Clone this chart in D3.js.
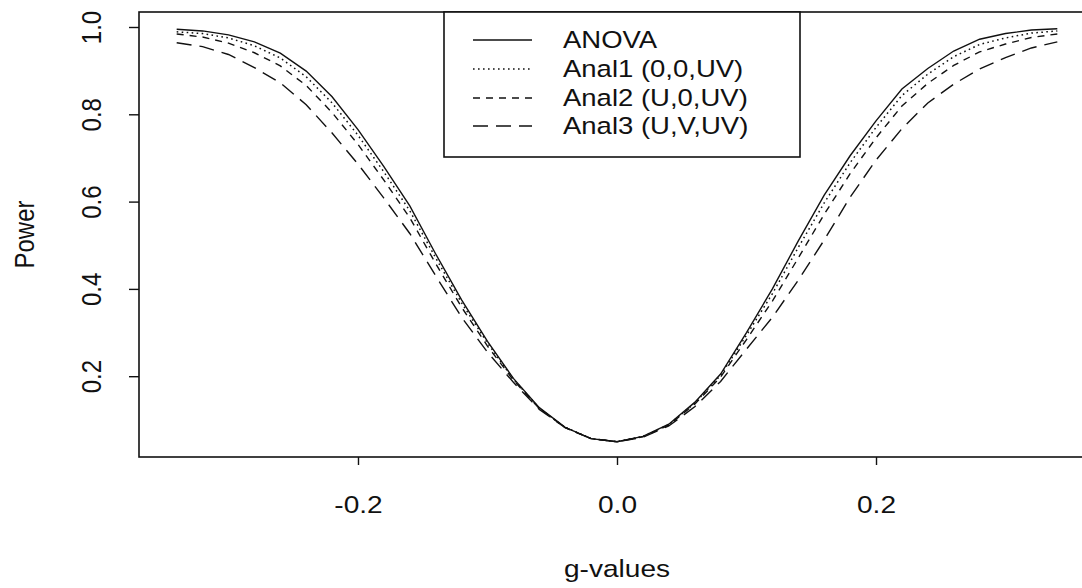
<!DOCTYPE html>
<html>
<head>
<meta charset="utf-8">
<script src="https://cdn.jsdelivr.net/npm/d3@7"></script>
<style>
  html, body { margin: 0; padding: 0; background: #fff; }
  svg { display: block; }
  text { font-family: "Liberation Sans", Arial, Helvetica, sans-serif; fill: #111; }
</style>
</head>
<body>
<svg id="chart" width="1082" height="588"></svg>
<script>
// ---- data ----
const gValues = [-0.34,-0.32,-0.30,-0.28,-0.26,-0.24,-0.22,-0.20,-0.18,-0.16,-0.14,-0.12,-0.10,-0.08,-0.06,-0.04,-0.02,0.00,
                  0.02,0.04,0.06,0.08,0.10,0.12,0.14,0.16,0.18,0.20,0.22,0.24,0.26,0.28,0.30,0.32,0.34];
const anova = [0.995,0.991,0.982,0.966,0.940,0.899,0.840,0.765,0.680,0.590,0.480,0.375,0.280,0.195,0.128,0.083,0.057,0.050,
               0.062,0.090,0.140,0.205,0.300,0.400,0.510,0.615,0.705,0.785,0.858,0.905,0.945,0.972,0.985,0.993,0.996];
const anal1 = [0.989,0.985,0.975,0.957,0.929,0.886,0.826,0.752,0.668,0.579,0.471,0.368,0.276,0.193,0.127,0.083,0.057,0.050,
               0.062,0.089,0.138,0.202,0.294,0.389,0.495,0.597,0.689,0.770,0.843,0.892,0.932,0.960,0.975,0.986,0.991];
const anal2 = [0.984,0.977,0.963,0.941,0.911,0.866,0.804,0.731,0.649,0.563,0.458,0.358,0.269,0.191,0.126,0.082,0.057,0.050,
               0.061,0.088,0.136,0.198,0.284,0.372,0.471,0.571,0.664,0.746,0.819,0.871,0.912,0.943,0.961,0.976,0.984];
const anal3 = [0.964,0.955,0.937,0.907,0.872,0.822,0.757,0.686,0.608,0.527,0.430,0.335,0.255,0.186,0.124,0.082,0.057,0.050,
               0.060,0.086,0.130,0.188,0.262,0.335,0.420,0.512,0.610,0.695,0.767,0.826,0.869,0.904,0.930,0.952,0.966];
const seriesNames = ["ANOVA", "Anal1 (0,0,UV)", "Anal2 (U,0,UV)", "Anal3 (U,V,UV)"];
const xTicks = [-0.2, 0.0, 0.2];
const xTickLabels = ["-0.2", "0.0", "0.2"];
const yTicks = [0.2, 0.4, 0.6, 0.8, 1.0];
const yTickLabels = ["0.2", "0.4", "0.6", "0.8", "1.0"];
const xTitle = "g-values";
const yTitle = "Power";

// ---- layout ----
const svg = d3.select("#chart");
const pLeft = 139, pRight = 1095, pTop = 12, pBottom = 457;
const stretch = 1.17; // the reference text is horizontally wide
const ink = "#111";

const x = d3.scaleLinear().domain([-0.3691, 0.3691]).range([pLeft, pRight]);
const y = d3.scaleLinear().domain([0.01489, 1.03436]).range([pBottom, pTop]);

const styles = [
  { dash: null, width: 1.4 },
  { dash: "1.6,3.4", width: 1.5 },
  { dash: "7,6", width: 1.4 },
  { dash: "15,8", width: 1.4 }
];
const allSeries = [anova, anal1, anal2, anal3];

// frame
svg.append("rect")
  .attr("x", pLeft).attr("y", pTop)
  .attr("width", pRight - pLeft).attr("height", pBottom - pTop)
  .attr("fill", "none").attr("stroke", ink).attr("stroke-width", 1.6);

// axes
const xAxis = d3.axisBottom(x).tickValues(xTicks).tickSize(8);
const gx = svg.append("g").attr("transform", `translate(0,${pBottom})`).call(xAxis);
gx.select(".domain").remove();
gx.selectAll(".tick line").attr("stroke", ink).attr("stroke-width", 1.4);
gx.selectAll(".tick text").remove();
gx.selectAll(".tick").append("text")
  .attr("transform", `translate(0,56) scale(${stretch},1)`)
  .attr("text-anchor", "middle")
  .attr("font-size", 24)
  .attr("fill", ink)
  .text((d, i) => xTickLabels[i]);

const yAxis = d3.axisLeft(y).tickValues(yTicks).tickSize(10);
const gy = svg.append("g").attr("transform", `translate(${pLeft},0)`).call(yAxis);
gy.select(".domain").remove();
gy.selectAll(".tick line").attr("stroke", ink).attr("stroke-width", 1.4);
gy.selectAll(".tick text").remove();
gy.selectAll(".tick").append("text")
  .attr("transform", `translate(${101 - pLeft},0) scale(${stretch},1) rotate(-90)`)
  .attr("text-anchor", "middle")
  .attr("font-size", 24)
  .attr("fill", ink)
  .text((d, i) => yTickLabels[i]);

// axis titles
svg.append("text")
  .attr("transform", `translate(617,577) scale(${stretch},1)`)
  .attr("text-anchor", "middle").attr("font-size", 24)
  .text(xTitle);
svg.append("text")
  .attr("transform", `translate(34,${(pTop + pBottom) / 2}) scale(${stretch},1) rotate(-90)`)
  .attr("text-anchor", "middle").attr("font-size", 24)
  .text(yTitle);

// curves
const line = d3.line().x(d => x(d[0])).y(d => y(d[1]));
allSeries.forEach((vals, i) => {
  svg.append("path")
    .datum(gValues.map((g, j) => [g, vals[j]]))
    .attr("d", line)
    .attr("fill", "none")
    .attr("stroke", ink)
    .attr("stroke-width", styles[i].width)
    .attr("stroke-dasharray", styles[i].dash);
});

// legend
const lg = svg.append("g");
lg.append("rect")
  .attr("x", 444).attr("y", pTop)
  .attr("width", 356).attr("height", 145)
  .attr("fill", "#fff").attr("stroke", ink).attr("stroke-width", 1.6);
const rowY = [40, 69, 98, 126];
seriesNames.forEach((name, i) => {
  lg.append("line")
    .attr("x1", 473).attr("x2", 532)
    .attr("y1", rowY[i]).attr("y2", rowY[i])
    .attr("stroke", ink)
    .attr("stroke-width", styles[i].width)
    .attr("stroke-dasharray", styles[i].dash);
  lg.append("text")
    .attr("transform", `translate(563,${rowY[i] + 8}) scale(${stretch},1)`)
    .attr("font-size", 23.5)
    .text(name);
});
</script>
</body>
</html>
